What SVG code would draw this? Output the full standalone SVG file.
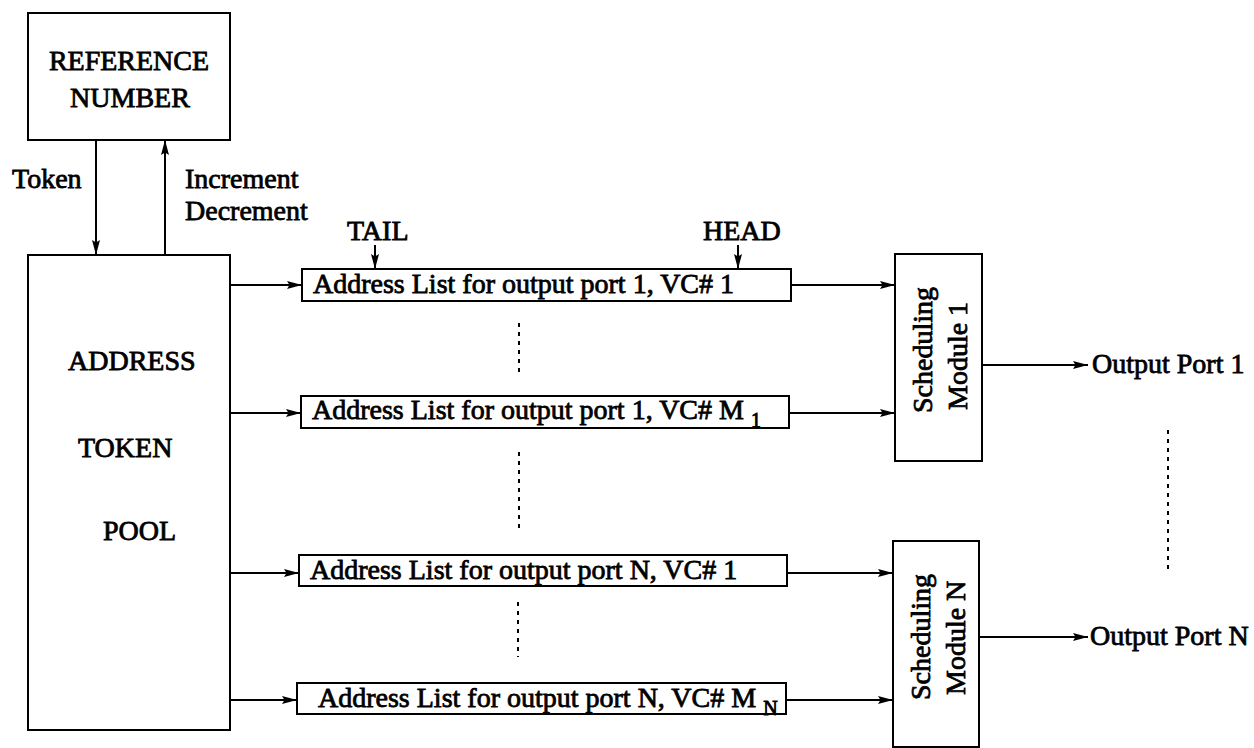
<svg xmlns="http://www.w3.org/2000/svg" width="1254" height="748" viewBox="0 0 1254 748">
<style>
.box{fill:#fff;stroke:#000;stroke-width:2}
.ln{fill:none;stroke:#000;stroke-width:2}
.dot{fill:none;stroke:#000;stroke-width:2;stroke-dasharray:4 5}
text{font-family:"Liberation Serif","Times New Roman",serif;font-size:28px;fill:#000;stroke:#000;stroke-width:0.8}
.sub{font-size:20px}
</style>
<defs>
<marker id="ah" markerUnits="userSpaceOnUse" markerWidth="16" markerHeight="10" refX="15" refY="5" orient="auto">
<path d="M0,1 L15,5 L0,9 L2.5,5 z" fill="#000"/>
</marker>
</defs>
<rect width="1254" height="748" fill="#fff"/>

<g id="refnum">
<rect class="box" x="28" y="13" width="202" height="127"/>
<text x="129" y="70" text-anchor="middle">REFERENCE</text>
<text x="130" y="107" text-anchor="middle">NUMBER</text>
</g>

<g id="pool">
<rect class="box" x="28" y="255" width="202" height="475"/>
<text x="68" y="370">ADDRESS</text>
<text x="78" y="457">TOKEN</text>
<text x="103" y="540">POOL</text>
</g>

<g id="list1">
<rect class="box" x="302" y="269" width="489" height="32"/>
<text x="313" y="293">Address List for output port 1, VC# 1</text>
</g>
<g id="list2">
<rect class="box" x="301" y="396" width="488" height="32"/>
<text x="312" y="419">Address List for output port 1, VC# M <tspan class="sub" dy="8">1</tspan></text>
</g>
<g id="list3">
<rect class="box" x="299" y="555" width="488" height="31"/>
<text x="310" y="579">Address List for output port N, VC# 1</text>
</g>
<g id="list4">
<rect class="box" x="297" y="683" width="489" height="31"/>
<text x="318" y="707">Address List for output port N, VC# M <tspan class="sub" dy="8">N</tspan></text>
</g>

<g id="sched1">
<rect class="box" x="895" y="254" width="87" height="207"/>
<text transform="translate(932,413) rotate(-90)">Scheduling</text>
<text transform="translate(967,410) rotate(-90)">Module 1</text>
</g>
<g id="schedN">
<rect class="box" x="893" y="541" width="86" height="206"/>
<text transform="translate(930,700) rotate(-90)">Scheduling</text>
<text transform="translate(965,695) rotate(-90)">Module N</text>
</g>

<g id="labels">
<text x="12" y="188">Token</text>
<text x="185" y="188">Increment</text>
<text x="185" y="220">Decrement</text>
<text x="347" y="240">TAIL</text>
<text x="703" y="240">HEAD</text>
<text x="1092" y="373">Output Port 1</text>
<text x="1090" y="645">Output Port N</text>
</g>

<g id="connectors">
<line class="ln" x1="96" y1="140" x2="96" y2="255" marker-end="url(#ah)"/>
<line class="ln" x1="165" y1="255" x2="165" y2="140" marker-end="url(#ah)"/>
<line class="ln" x1="375" y1="245" x2="375" y2="269" marker-end="url(#ah)"/>
<line class="ln" x1="738" y1="245" x2="738" y2="269" marker-end="url(#ah)"/>
<line class="ln" x1="230" y1="285" x2="302" y2="285" marker-end="url(#ah)"/>
<line class="ln" x1="230" y1="413" x2="301" y2="413" marker-end="url(#ah)"/>
<line class="ln" x1="230" y1="573" x2="299" y2="573" marker-end="url(#ah)"/>
<line class="ln" x1="230" y1="700" x2="297" y2="700" marker-end="url(#ah)"/>
<line class="ln" x1="791" y1="285" x2="895" y2="285" marker-end="url(#ah)"/>
<line class="ln" x1="789" y1="413" x2="895" y2="413" marker-end="url(#ah)"/>
<line class="ln" x1="787" y1="573" x2="893" y2="573" marker-end="url(#ah)"/>
<line class="ln" x1="786" y1="700" x2="893" y2="700" marker-end="url(#ah)"/>
<line class="ln" x1="982" y1="365" x2="1088" y2="365" marker-end="url(#ah)"/>
<line class="ln" x1="979" y1="637" x2="1088" y2="637" marker-end="url(#ah)"/>
<line class="dot" x1="519" y1="323" x2="519" y2="377"/>
<line class="dot" x1="519" y1="452" x2="519" y2="533"/>
<line class="dot" x1="518" y1="602" x2="518" y2="657"/>
<line class="dot" x1="1168" y1="430" x2="1168" y2="572"/>
</g>
</svg>
